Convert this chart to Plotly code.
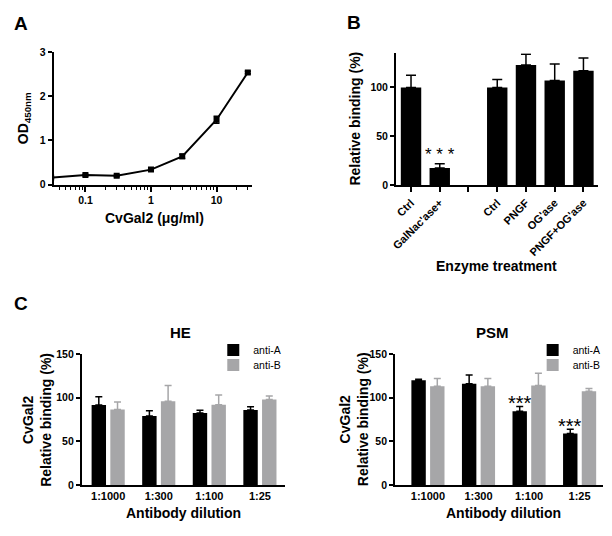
import numpy as np
import plotly.graph_objects as go

# ---------------- Data ----------------
# Panel A: dose response
conc = [0.03, 0.1, 0.3, 1, 3, 10, 30]
od450 = [0.16, 0.215, 0.2, 0.34, 0.64, 1.47, 2.54]
od450_err = [0.02, 0.02, 0.02, 0.03, 0.05, 0.08, 0.03]

# Panel B: enzyme treatment (empty slot separates the two groups)
enz_labels = ["Ctrl", "GalNac'ase+", "", "Ctrl", "PNGF", "OG'ase", "PNGF+OG'ase"]
enz_values = [100, 17.5, None, 100, 123, 107, 117]
enz_err = [12.5, 4.5, None, 8, 11, 17, 13]

# Panel C: antibody blocking
dilutions = ["1:1000", "1:300", "1:100", "1:25"]
he_antiA = [91.5, 79, 82.5, 86]
he_antiA_err = [9.5, 6, 3, 3.5]
he_antiB = [86.5, 96, 92, 98]
he_antiB_err = [8.5, 18, 11, 4]
psm_antiA = [120, 116, 84.5, 59]
psm_antiA_err = [1, 10, 5.5, 5]
psm_antiB = [113, 113, 114, 107.5]
psm_antiB_err = [9, 9, 14, 3]

W, H = 612, 536
FONT = "Liberation Sans, Arial, Helvetica, sans-serif"
GRAY = "#a6a6a8"


def px_x(a, b):
    return [a / W, b / W]


def px_y(top, bottom):
    return [1 - bottom / H, 1 - top / H]


fig = go.Figure()

# ---- Panel A ----
fig.add_trace(go.Scatter(
    x=conc, y=od450, mode="lines+markers",
    line=dict(color="black", width=2),
    marker=dict(symbol="square", size=6, color="black"),
    error_y=dict(type="data", array=od450_err, color="black", thickness=1.5, width=3),
    xaxis="x", yaxis="y", showlegend=False,
))

# ---- Panel B ----
b_pos = [i for i, v in enumerate(enz_values) if v is not None]
empty_pos = [i for i, v in enumerate(enz_values) if v is None]
fig.add_trace(go.Bar(
    x=b_pos, y=[enz_values[i] for i in b_pos], width=0.71,
    marker=dict(color="black", line=dict(width=0)),
    error_y=dict(type="data", array=[enz_err[i] for i in b_pos], arrayminus=[0] * len(b_pos),
                 symmetric=False, color="black", thickness=1.5, width=5),
    xaxis="x2", yaxis="y2", showlegend=False,
))

# ---- Panel C ----
cpos = np.arange(len(dilutions))
OFF, BW = 0.185, 0.285
for ax, vals, errs, color, name, leg in [
    ("3", he_antiA, he_antiA_err, "black", "anti-A", "legend"),
    ("3", he_antiB, he_antiB_err, GRAY, "anti-B", "legend2"),
    ("4", psm_antiA, psm_antiA_err, "black", "anti-A", "legend3"),
    ("4", psm_antiB, psm_antiB_err, GRAY, "anti-B", "legend4"),
]:
    off = -OFF if name == "anti-A" else OFF
    fig.add_trace(go.Bar(
        x=cpos + off, y=vals, width=BW, name=name,
        marker=dict(color=color, line=dict(width=0)),
        error_y=dict(type="data", array=errs, arrayminus=[0] * len(errs), symmetric=False,
                     color=color, thickness=1.5, width=3.5),
        xaxis="x" + ax, yaxis="y" + ax, legend=leg, showlegend=True,
    ))

axis_common = dict(
    showline=True, linecolor="black", linewidth=2, ticks="outside", tickcolor="black",
    tickwidth=1.5, ticklen=4, showgrid=False, zeroline=False,
    tickfont=dict(family=FONT, size=10.5, color="black", weight="bold"),
)

minor_vals = [v * m for m in [0.01, 0.1, 1, 10] for v in range(2, 10)]
minor_vals = [v for v in minor_vals if 0.033 < v < 34 and v not in (0.1, 1, 10)]


def legend_at(xpx, ypx):
    return dict(x=xpx / W, y=1 - ypx / H, xanchor="left", yanchor="top",
                font=dict(family=FONT, size=10.5, color="black"), bgcolor="rgba(0,0,0,0)",
                itemwidth=30)


layout = dict(
    width=W, height=H, margin=dict(l=0, r=0, t=0, b=0),
    paper_bgcolor="white", plot_bgcolor="white",
    barmode="overlay",
    font=dict(family=FONT, color="black"),
    xaxis=dict(axis_common, domain=px_x(49, 249), type="log",
               range=[np.log10(0.0327), np.log10(34.7)],
               tickvals=[0.1, 1, 10], ticktext=["0.1", "1", "10"], ticklen=5,
               minor=dict(tickvals=minor_vals, ticks="outside", ticklen=3, tickwidth=1,
                          tickcolor="black"),
               anchor="y"),
    yaxis=dict(axis_common, domain=px_y(47.3, 182.7), range=[0, 3],
               tickvals=[0, 1, 2, 3], anchor="x"),
    xaxis2=dict(axis_common, domain=px_x(394.3, 597.7), range=[-0.52, 6.5],
                tickvals=b_pos, ticktext=[enz_labels[i] for i in b_pos], tickangle=-45,
                tickfont=dict(family=FONT, size=11, color="black", weight="bold"),
                ticklen=5,
                minor=dict(tickvals=empty_pos, ticks="outside", ticklen=5, tickwidth=1.5,
                           tickcolor="black"),
                anchor="y2"),
    yaxis2=dict(axis_common, domain=px_y(48.3, 183.3), range=[0, 135],
                tickvals=[0, 50, 100], anchor="x2"),
    xaxis3=dict(axis_common, domain=px_x(77.5, 282), range=[-0.52, 3.49],
                tickvals=list(cpos), ticktext=dilutions, ticklen=0,
                tickfont=dict(family=FONT, size=11, color="black", weight="bold"), anchor="y3"),
    yaxis3=dict(axis_common, domain=px_y(356, 490), range=[0, 150],
                tickvals=[0, 50, 100, 150], anchor="x3"),
    xaxis4=dict(axis_common, domain=px_x(393.3, 603.3), range=[-0.65, 3.47],
                tickvals=list(cpos), ticktext=dilutions, ticklen=0,
                tickfont=dict(family=FONT, size=11, color="black", weight="bold"), anchor="y4"),
    yaxis4=dict(axis_common, domain=px_y(356, 490), range=[0, 150],
                tickvals=[0, 50, 100, 150], anchor="x4"),
    legend=legend_at(210, 337),
    legend2=legend_at(210, 352.5),
    legend3=legend_at(532, 337),
    legend4=legend_at(532, 352.5),
)
fig.update_layout(**layout)


def ann(text, x, y, size=14, angle=0, bold=True, xanchor="center", yanchor="middle"):
    fig.add_annotation(
        text=text, x=x / W, y=1 - y / H, xref="paper", yref="paper", showarrow=False,
        textangle=angle, xanchor=xanchor, yanchor=yanchor,
        font=dict(family=FONT, size=size, color="black", weight="bold" if bold else "normal"),
    )


# panel letters
ann("A", 16, 18, size=19)
ann("B", 352, 17, size=19)
ann("C", 16, 304, size=19)

# axis titles
ann("OD<sub>450nm</sub>", 20, 115, angle=-90)
ann("CvGal2 (μg/ml)", 151, 216.5)
ann("Relative binding (%)", 353, 115, angle=-90)
ann("Enzyme treatment", 496, 265.5)
ann("CvGal2<br>Relative binding (%)", 31.5, 423, angle=-90)
ann("CvGal2<br>Relative binding (%)", 351.5, 423, angle=-90)
ann("Antibody dilution", 180, 518.5)
ann("Antibody dilution", 503, 519)
ann("HE", 177, 333.5, size=15)
ann("PSM", 492, 333.5, size=15)

# significance marks (placed just above the error bars)
fig.add_annotation(text="* * *", x=1, y=enz_values[1] + enz_err[1], xref="x2", yref="y2",
                   showarrow=False, yanchor="bottom", yshift=-2,
                   font=dict(family=FONT, size=17, color="black"))
for i in [2, 3]:
    fig.add_annotation(text="***", x=cpos[i] - OFF, y=psm_antiA[i] + psm_antiA_err[i],
                       xref="x4", yref="y4", showarrow=False, yanchor="bottom", yshift=-10,
                       font=dict(family=FONT, size=20, color="black"))

fig.write_html("out.html", config={"displayModeBar": False},
               post_script="document.body.style.margin='0px';")
